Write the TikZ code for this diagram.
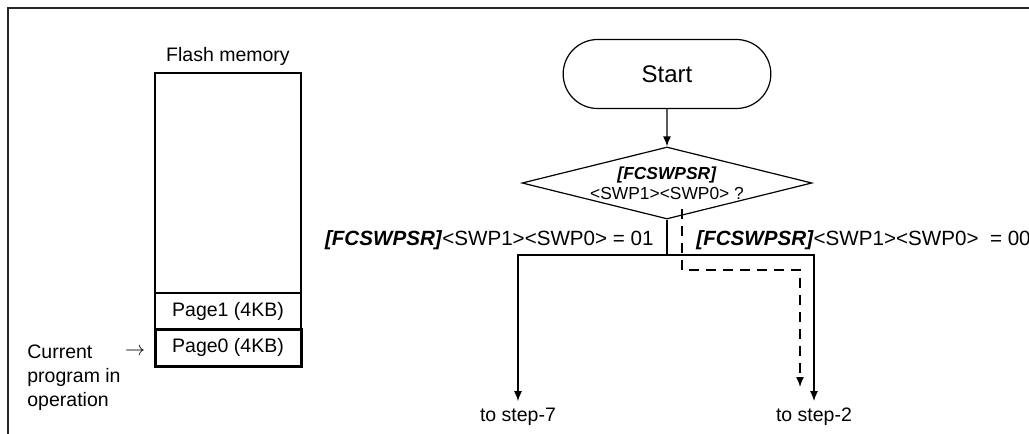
\documentclass[tikz,border=0pt]{standalone}
\usepackage{fontspec}
\setmainfont{Liberation Sans}
\usetikzlibrary{positioning,shapes.geometric,shapes.misc,arrows.meta}
\newcommand{\fcswpsr}{\textbf{\textit{[FCSWPSR]}}}

\begin{document}
\begin{tikzpicture}[
    x=0.5pt, y=-0.5pt,
    every node/.style={font=\fontsize{9.75}{12}\selectfont},
    membox/.style={draw, rectangle, line width=0.6pt, minimum width=73pt, inner sep=0pt},
    pagebox/.style={membox, minimum height=18pt},
    terminal/.style={draw, rounded rectangle, line width=0.6pt, minimum width=110.5pt, minimum height=34.5pt, font=\fontsize{12}{14}\selectfont},
    decision/.style={draw, diamond, aspect=4, line width=0.6pt, inner sep=0pt, minimum width=145pt, minimum height=36pt, align=center, font=\fontsize{8.7}{10}\selectfont},
    cond/.style={inner sep=0pt, font=\fontsize{10.3}{12}\selectfont},
    arrow/.style={->, >={Latex[length=5pt, width=4pt]}, line width=0.7pt}
]
% Rahmen
\useasboundingbox (0,0) rectangle (1029,434);
\clip (0,0) rectangle (1029,434);
\draw[line width=1pt, black!85] (8,8) rectangle (1100,500);

% Flash memory
\node[membox, minimum height=110pt] (mem) at (228,183) {};
\node[pagebox] (page1) at (228,311) {Page1 (4KB)};
\node[pagebox, line width=1.5pt, minimum height=18.5pt] (page0) at (228,347.5) {Page0 (4KB)};
\node[above=0pt of mem] (memlbl) {Flash memory};
\node[anchor=west, align=left, inner sep=0pt] (cur) at (27,378) {Current\\program in\\operation};
\node[inner sep=0pt] (curarrow) at (135,352) {$\rightarrow$};

% Ablauf
\node[terminal] (start) at (667,74) {Start};
\node[decision] (check) at (667,183) {\fcswpsr\\<SWP1><SWP0> ?};
\node[cond, anchor=east] (lbl01) at (654,240) {\fcswpsr<SWP1><SWP0> = 01};
\node[cond, anchor=west] (lbl00) at (696,240) {\fcswpsr<SWP1><SWP0>\ \ = 00};
\node (to7) at (518,417) {to step-7};
\node (to2) at (814,417) {to step-2};

\coordinate (split) at (667,255);
\coordinate (dstart) at (682,209);
\coordinate (dbend) at (682,270);
\coordinate (dend) at (800,387);

% Verbindungen
\draw[arrow] (start) -- (check);
\draw[line width=0.7pt] (check.south) -- (split);
\draw[arrow] (split) -| (to7.north);
\draw[arrow] (split) -| (to2.north);
\draw[arrow, dashed, dash pattern=on 5pt off 3.5pt] (dstart) -- (dbend) -| (dend);

\end{tikzpicture}
\end{document}
